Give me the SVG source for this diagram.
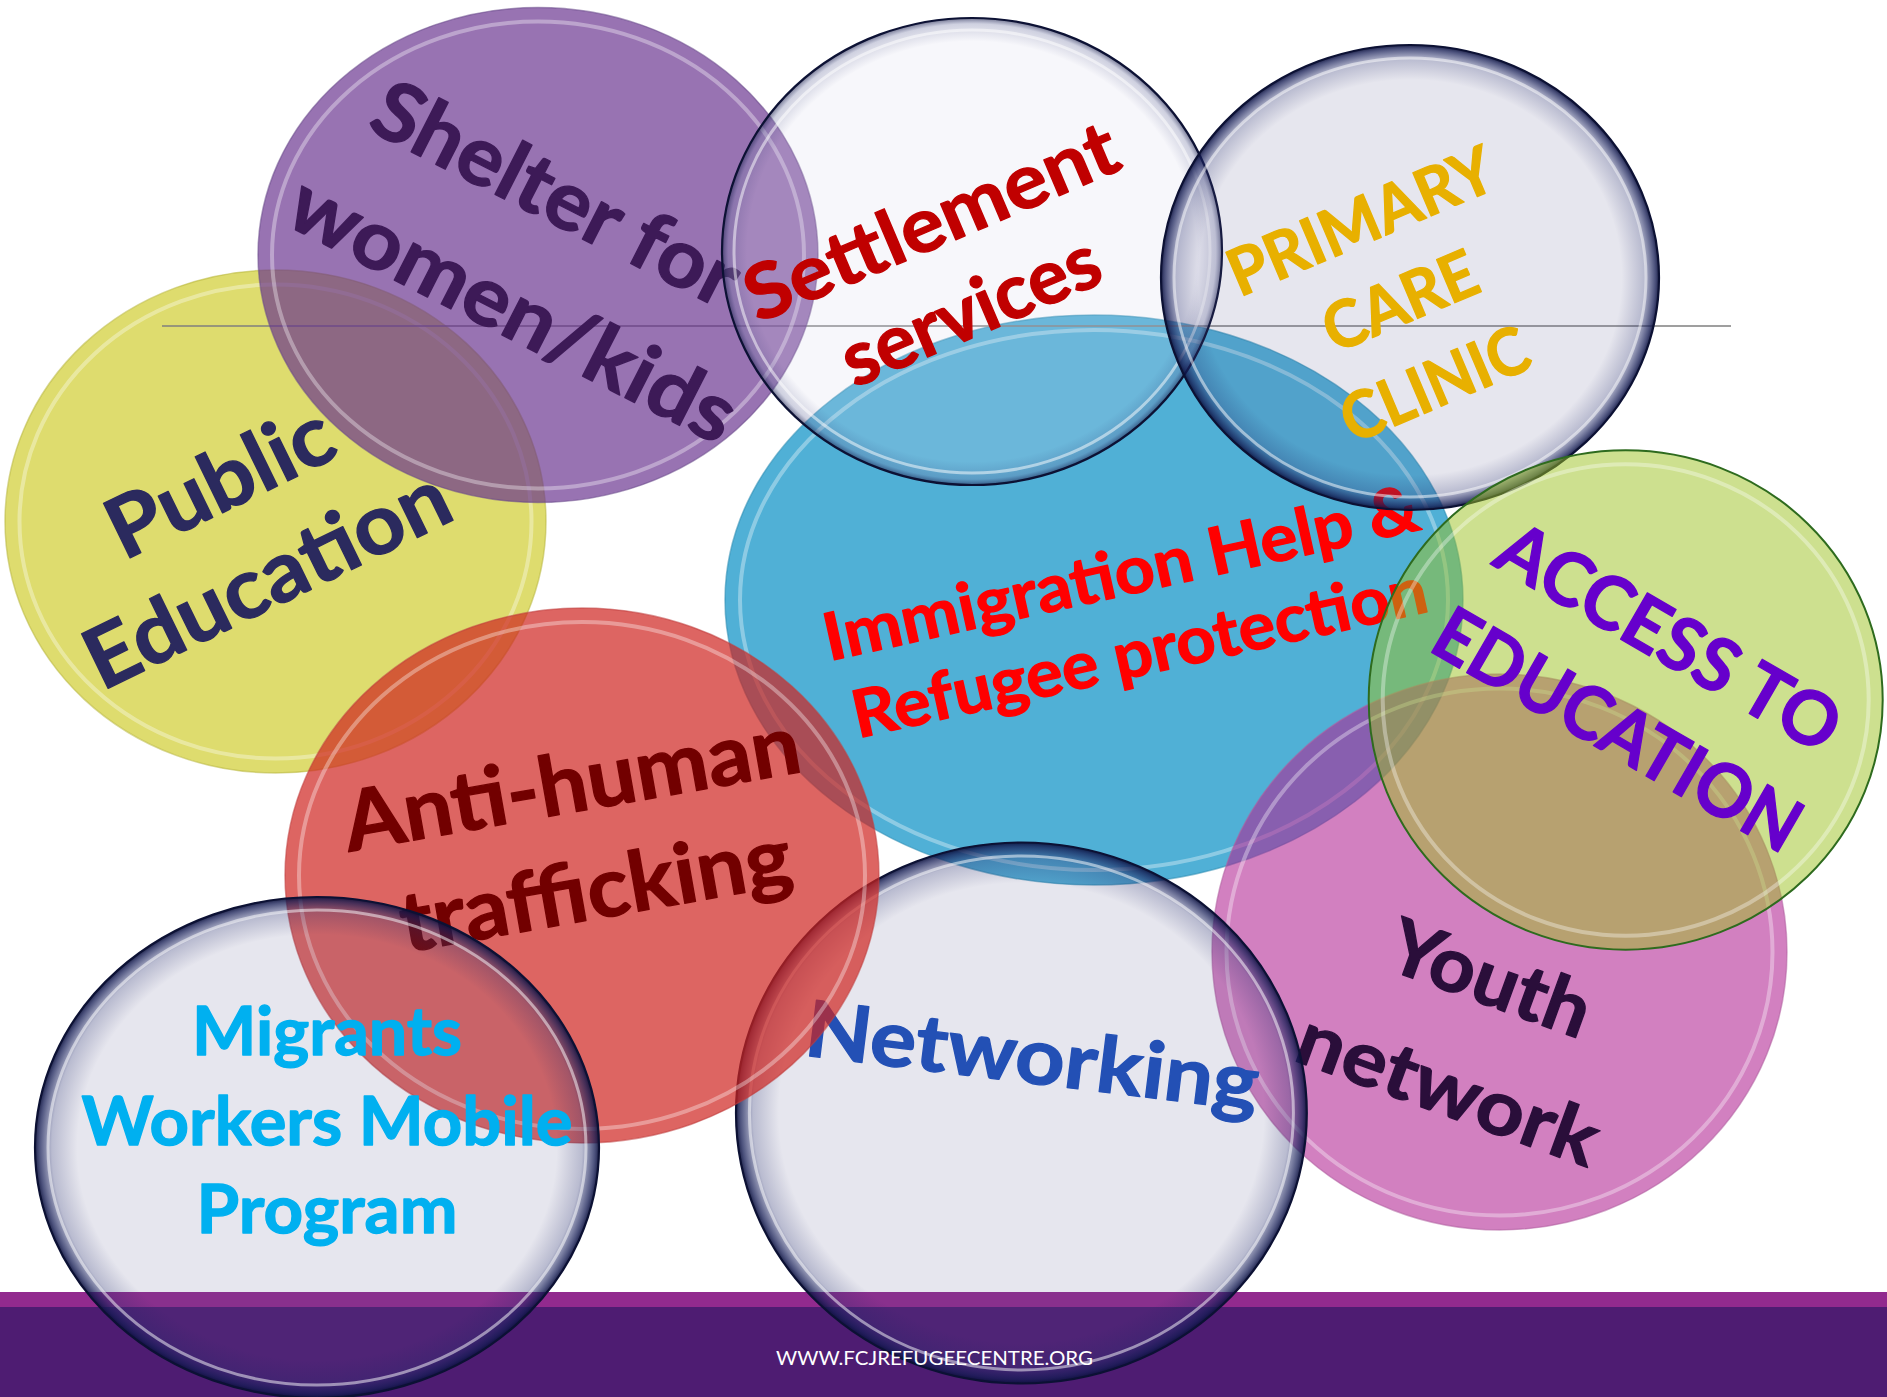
<svg xmlns="http://www.w3.org/2000/svg" width="1887" height="1397" viewBox="0 0 1887 1397">
<defs>
<style>
.lbl{font-family:Lato,"Liberation Sans",sans-serif;font-weight:700;text-anchor:middle;stroke-width:1.3;stroke-linejoin:round}
.ring{fill:none;stroke:#ffffff;stroke-opacity:.35;stroke-width:4}
.edge{fill:none;stroke-width:1.5;stroke-opacity:.55}
.gfill{fill:#5A5A8C;fill-opacity:.15}
.gedge{fill:none;stroke:#0c1134;stroke-width:2.2}
.hl{fill:none;stroke:#ffffff;stroke-opacity:.5;stroke-width:3}
</style>
<radialGradient id="rim" cx="0.5" cy="0.5" r="0.5">
<stop offset="0" stop-color="#1a2060" stop-opacity="0"/>
<stop offset="0.85" stop-color="#1a2060" stop-opacity="0"/>
<stop offset="0.94" stop-color="#1a2466" stop-opacity="0.22"/>
<stop offset="0.985" stop-color="#101850" stop-opacity="0.72"/>
<stop offset="1" stop-color="#0a0f3a" stop-opacity="0.9"/>
</radialGradient>
<radialGradient id="rimLight" cx="0.5" cy="0.5" r="0.5">
<stop offset="0" stop-color="#1a2060" stop-opacity="0"/>
<stop offset="0.9" stop-color="#1a2060" stop-opacity="0"/>
<stop offset="0.975" stop-color="#1a2466" stop-opacity="0.18"/>
<stop offset="1" stop-color="#0a0f3a" stop-opacity="0.55"/>
</radialGradient>
</defs>

<g id="footer">
<rect x="0" y="1292" width="1887" height="16" fill="#922A8E"/>
<rect x="0" y="1307" width="1887" height="90" fill="#4E1C72"/>
</g>

<g id="public-education">
<ellipse cx="275.5" cy="521.5" rx="270.5" ry="251.5" fill="#DEDC6E"/>
<ellipse cx="275.5" cy="521.5" rx="270.5" ry="251.5" class="edge" stroke="#b8b640"/>
<ellipse cx="275.5" cy="521.5" rx="256" ry="237" class="ring"/>
<g transform="translate(242.9,529.4) rotate(-26)" class="lbl" font-size="84" fill="#2B2A5E" stroke="#2B2A5E">
<text x="0" y="-23.8" textLength="242" lengthAdjust="spacingAndGlyphs">Public</text>
<text x="0" y="83.8" textLength="396" lengthAdjust="spacingAndGlyphs">Education</text>
</g>
</g>

<g id="immigration">
<ellipse cx="1094" cy="600" rx="369" ry="285" fill="#50B0D6"/>
<ellipse cx="1094" cy="600" rx="369" ry="285" class="edge" stroke="#2a8ab0"/>
<ellipse cx="1094" cy="600" rx="354" ry="270" class="ring"/>
<g transform="translate(1130,612.5) rotate(-12.5)" class="lbl" font-size="65.5" fill="#FF0000" stroke="#FF0000">
<text x="-0.4" y="-17.8" textLength="608" lengthAdjust="spacingAndGlyphs">Immigration Help &amp;</text>
<text x="0.4" y="63.8" textLength="587" lengthAdjust="spacingAndGlyphs">Refugee protection</text>
</g>
</g>

<g id="rule">
<line x1="162" y1="326" x2="1731" y2="326" stroke="#7f7f7f" stroke-width="1.3"/>
</g>

<g id="shelter">
<ellipse cx="538" cy="255" rx="280" ry="247.5" fill="#67318E" fill-opacity="0.68"/>
<ellipse cx="538" cy="255" rx="280" ry="247.5" class="edge" stroke="#6a4a8a"/>
<ellipse cx="538" cy="255" rx="266" ry="233.5" class="ring"/>
<g transform="translate(535.5,250) rotate(27)" class="lbl" font-size="82" fill="#3D1A57" stroke="#3D1A57">
<text x="-6.9" y="-31" textLength="400" lengthAdjust="spacingAndGlyphs">Shelter for</text>
<text x="6.9" y="91" textLength="490" lengthAdjust="spacingAndGlyphs">women/kids</text>
</g>
</g>

<g id="settlement">
<ellipse cx="972" cy="251.5" rx="250" ry="233.5" fill="#D8D8EC" fill-opacity="0.2"/>
<ellipse cx="972" cy="251.5" rx="250" ry="233.5" fill="url(#rimLight)"/>
<ellipse cx="972" cy="251.5" rx="238" ry="221.5" class="hl" stroke-opacity="0.4"/>
<ellipse cx="972" cy="251.5" rx="250" ry="233.5" class="gedge" stroke-width="1.8"/>
<g transform="translate(952,269) rotate(-23)" class="lbl" font-size="76" fill="#C00000" stroke="#C00000">
<text x="-0.8" y="-25.5" textLength="398" lengthAdjust="spacingAndGlyphs">Settlement</text>
<text x="0.8" y="71.5" textLength="274" lengthAdjust="spacingAndGlyphs">services</text>
</g>
</g>

<g id="primary-care">
<ellipse cx="1410" cy="277.5" rx="249" ry="232.5" class="gfill"/>
<ellipse cx="1410" cy="277.5" rx="249" ry="232.5" fill="url(#rim)"/>
<ellipse cx="1410" cy="277.5" rx="236" ry="219.5" class="hl"/>
<ellipse cx="1410" cy="277.5" rx="249" ry="232.5" class="gedge"/>
<g transform="translate(1400,301) rotate(-23)" class="lbl" font-size="65" fill="#E8B000" stroke="#E8B000">
<text x="-4.8" y="-66" textLength="283" lengthAdjust="spacingAndGlyphs">PRIMARY</text>
<text x="0" y="23" textLength="162" lengthAdjust="spacingAndGlyphs">CARE</text>
<text x="-0.5" y="113" textLength="198" lengthAdjust="spacingAndGlyphs">CLINIC</text>
</g>
</g>

<g id="youth">
<ellipse cx="1499.5" cy="952" rx="287.5" ry="278" fill="#B12492" fill-opacity="0.58"/>
<ellipse cx="1499.5" cy="952" rx="287.5" ry="278" class="edge" stroke="#b060a0"/>
<ellipse cx="1499.5" cy="952" rx="273" ry="263.5" class="ring"/>
<g transform="translate(1468.5,1036.5) rotate(20)" class="lbl" font-size="76" fill="#2A0E3A" stroke="#2A0E3A">
<text x="0.9" y="-35.5" textLength="209" lengthAdjust="spacingAndGlyphs">Youth</text>
<text x="-0.9" y="82.5" textLength="315" lengthAdjust="spacingAndGlyphs">network</text>
</g>
</g>

<g id="networking">
<ellipse cx="1021.4" cy="1113" rx="285.4" ry="270.5" class="gfill"/>
<ellipse cx="1021.4" cy="1113" rx="285.4" ry="270.5" fill="url(#rim)"/>
<ellipse cx="1021.4" cy="1113" rx="272" ry="257" class="hl"/>
<ellipse cx="1021.4" cy="1113" rx="285.4" ry="270.5" class="gedge"/>
<g transform="translate(1029,1083) rotate(7)" class="lbl" font-size="78" fill="#2350B5" stroke="#2350B5">
<text x="0" y="0" textLength="456" lengthAdjust="spacingAndGlyphs">Networking</text>
</g>
</g>

<g id="anti-trafficking">
<ellipse cx="582" cy="875.5" rx="297" ry="267.5" fill="#CE2420" fill-opacity="0.7"/>
<ellipse cx="582" cy="875.5" rx="297" ry="267.5" class="edge" stroke="#c04040"/>
<ellipse cx="582" cy="875.5" rx="283" ry="253.5" class="ring"/>
<g transform="translate(582,860) rotate(-10)" class="lbl" font-size="83" fill="#720000" stroke="#720000">
<text x="3" y="-48.6" textLength="462" lengthAdjust="spacingAndGlyphs">Anti-human</text>
<text x="8" y="60.4" textLength="396" lengthAdjust="spacingAndGlyphs">trafficking</text>
</g>
</g>

<g id="migrants">
<ellipse cx="317" cy="1147.5" rx="282" ry="250.5" class="gfill"/>
<ellipse cx="317" cy="1147.5" rx="282" ry="250.5" fill="url(#rim)"/>
<ellipse cx="317" cy="1147.5" rx="269" ry="237.5" class="hl"/>
<ellipse cx="317" cy="1147.5" rx="282" ry="250.5" class="gedge"/>
<g class="lbl" font-size="66" fill="#00B0F0" stroke="#00B0F0">
<text x="327" y="1055" textLength="270" lengthAdjust="spacingAndGlyphs">Migrants</text>
<text x="327" y="1145" textLength="491" lengthAdjust="spacingAndGlyphs">Workers Mobile</text>
<text x="327" y="1233" textLength="261" lengthAdjust="spacingAndGlyphs">Program</text>
</g>
</g>

<g id="access-education">
<ellipse cx="1625.7" cy="700" rx="257" ry="249.7" fill="#9BC11F" fill-opacity="0.5"/>
<ellipse cx="1625.7" cy="700" rx="243" ry="235.7" class="ring"/>
<ellipse cx="1625.7" cy="700" rx="257" ry="249.7" fill="none" stroke="#2E6B1E" stroke-width="2"/>
<g transform="translate(1643.7,683) rotate(30)" class="lbl" font-size="74" fill="#6600CC" stroke="#6600CC">
<text x="-0.8" y="-26.4" textLength="383" lengthAdjust="spacingAndGlyphs">ACCESS TO</text>
<text x="0.8" y="79.4" textLength="411" lengthAdjust="spacingAndGlyphs">EDUCATION</text>
</g>
</g>

<g id="footer-text">
<text x="934.5" y="1365" font-family="Lato,'Liberation Sans',sans-serif" font-size="19" fill="#ffffff" text-anchor="middle" textLength="317" lengthAdjust="spacingAndGlyphs">WWW.FCJREFUGEECENTRE.ORG</text>
</g>
</svg>
